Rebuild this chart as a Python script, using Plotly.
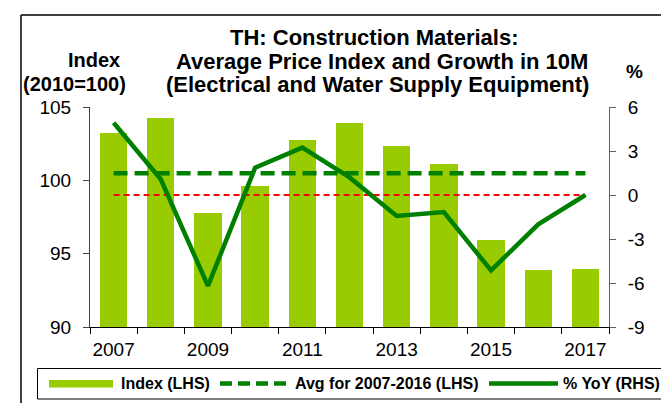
import plotly.graph_objects as go

years = [2007, 2008, 2009, 2010, 2011, 2012, 2013, 2014, 2015, 2016, 2017]
index_values = [103.25, 104.27, 97.8, 99.6, 102.77, 103.9, 102.36, 101.13, 95.9, 93.9, 93.93]
yoy_values = [4.93, 1.07, -6.2, 1.86, 3.23, 1.2, -1.43, -1.16, -5.14, -2.0, 0.0]
avg_value = sum(index_values[:10]) / 10
x_tick_labels = ["2007", "2009", "2011", "2013", "2015", "2017"]
x_tick_vals = [2007, 2009, 2011, 2013, 2015, 2017]
y2_tick_vals = [-9, -6, -3, 0, 3, 6]
y2_tick_labels = ["-9", "-6", "-3", "0", "3", "6"]

W, H = 669, 403
ML, MR, MT, MB = 82, 68, 99, 84
PW, PH = W - ML - MR, H - MT - MB

def px(x):
    return (x - ML) / PW

def py(y):
    return (H - MB - y) / PH

FONT = "Arial, Liberation Sans, sans-serif"
BAR = "#99CC00"
GREEN = "#008000"

fig = go.Figure()
fig.add_trace(go.Bar(x=years, y=index_values, marker=dict(color=BAR, line=dict(width=0)),
                     width=0.58, yaxis="y", showlegend=False))
fig.add_trace(go.Scatter(x=[years[0], years[-1]], y=[avg_value, avg_value], mode="lines",
                         line=dict(color=GREEN, width=4.5, dash="14px,7px"), yaxis="y", showlegend=False))
fig.add_trace(go.Scatter(x=[years[0], years[-1]], y=[0, 0], mode="lines",
                         line=dict(color="#FF0000", width=2, dash="6px,4px"), yaxis="y2", showlegend=False))
fig.add_trace(go.Scatter(x=years, y=yoy_values, mode="lines",
                         line=dict(color=GREEN, width=4.5), yaxis="y2", showlegend=False))

fig.update_layout(
    width=W, height=H,
    margin=dict(l=ML, r=MR, t=MT, b=MB),
    paper_bgcolor="white", plot_bgcolor="white",
    font=dict(family=FONT, color="black"),
    bargap=0,
    xaxis=dict(range=[2006.5, 2017.5], tickvals=x_tick_vals, ticktext=x_tick_labels,
               ticks="", showgrid=False, zeroline=False, showline=True, linecolor="black",
               linewidth=1, tickfont=dict(size=19), ticklabelstandoff=5,
               minor=dict(tick0=2006.5, dtick=1, ticks="outside", ticklen=6, tickcolor="black",
                          showgrid=False)),
    yaxis=dict(range=[90, 105], dtick=5, ticks="outside", ticklen=6, tickcolor="#404040",
               showgrid=False, zeroline=False, showline=True, linecolor="#404040", linewidth=1,
               tickfont=dict(size=19), ticklabelstandoff=8),
    yaxis2=dict(range=[-9, 6], tickvals=y2_tick_vals, ticktext=y2_tick_labels, overlaying="y",
                side="right", ticks="outside", ticklen=6, tickcolor="#606060", showgrid=False,
                zeroline=False, showline=True, linecolor="#606060", linewidth=1,
                tickfont=dict(size=19), ticklabelstandoff=8),
)

annotations = [
    dict(x=px(366), y=py(30), text="<b>TH: Construction Materials:</b>", font=dict(size=22)),
    dict(x=px(374), y=py(53), text="<b>Average Price Index and Growth in 10M</b>", font=dict(size=22)),
    dict(x=px(370), y=py(76), text="<b>(Electrical and Water Supply Equipment)</b>", font=dict(size=22)),
    dict(x=px(86), y=py(52), text="<b>Index</b>", font=dict(size=20)),
    dict(x=px(66), y=py(76), text="<b>(2010=100)</b>", font=dict(size=20)),
    dict(x=px(626), y=py(63), text="<b>%</b>", font=dict(size=19)),
]
for t, x0 in [("Index (LHS)", 111), ("Avg for 2007-2016 (LHS)", 285), ("% YoY (RHS)", 553)]:
    annotations.append(dict(x=px(x0), y=py(375.5), text="<b>" + t + "</b>", xanchor="left",
                            font=dict(size=16)))
for a in annotations:
    a.setdefault("xanchor", "center")
    a.update(xref="paper", yref="paper", yanchor="middle", showarrow=False)
fig.update_layout(annotations=annotations)

shapes = [
    # frame
    dict(type="line", x0=px(13), x1=px(13), y0=py(7), y1=py(410), line=dict(color="black", width=1.5)),
    dict(type="line", x0=px(13), x1=px(663), y0=py(7), y1=py(7), line=dict(color="black", width=1.5)),
    dict(type="line", x0=px(663), x1=px(663), y0=py(7), y1=py(410), line=dict(color="black", width=1.5)),
    # legend box
    dict(type="rect", x0=px(29.5), x1=px(656), y0=py(360.5), y1=py(391), line=dict(color="black", width=1)),
    # legend swatches
    dict(type="rect", x0=px(41), x1=px(105), y0=py(372), y1=py(379.5), fillcolor=BAR, line=dict(width=0)),
    dict(type="line", x0=px(212), x1=px(279), y0=py(375.5), y1=py(375.5),
         line=dict(color=GREEN, width=4.5, dash="12px,6px")),
    dict(type="line", x0=px(481), x1=px(550), y0=py(375.5), y1=py(375.5),
         line=dict(color=GREEN, width=4.5)),
]
for s in shapes:
    s.update(xref="paper", yref="paper")
fig.update_layout(shapes=shapes)

fig.write_html("out.html")
